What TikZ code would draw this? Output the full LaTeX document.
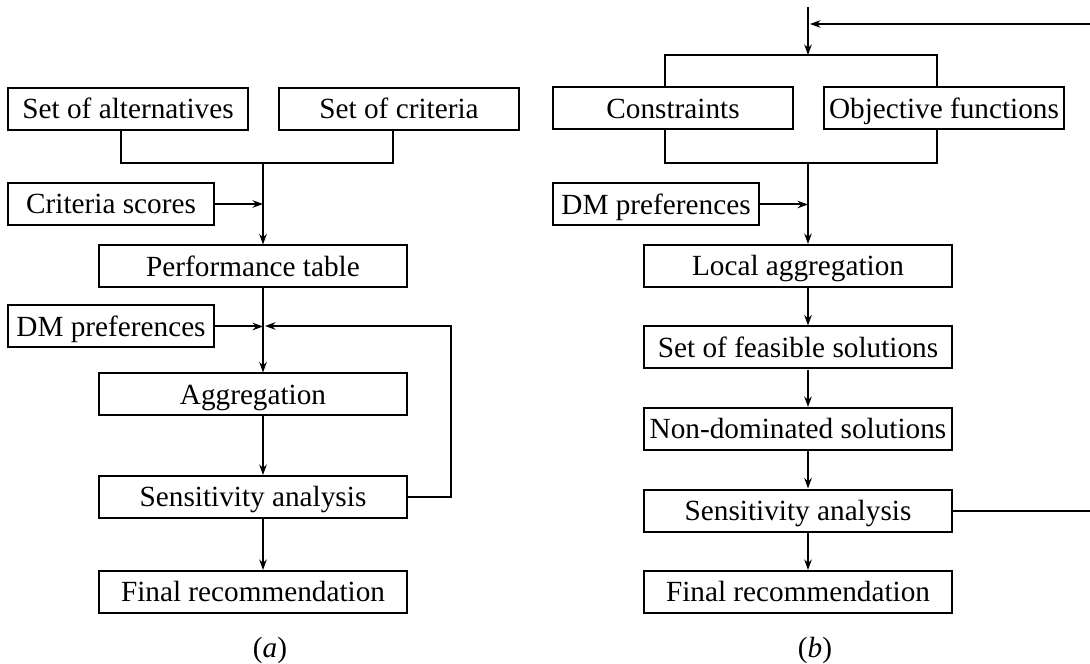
\documentclass[tikz,border=0pt]{standalone}
\usepackage{fontspec}
\setmainfont{Liberation Serif}
\usepackage{tikz}
\usetikzlibrary{arrows.meta}
\usetikzlibrary{positioning}

\begin{document}
\begin{tikzpicture}[x=0.4pt, y=-0.4pt, line width=0.8pt,
    block/.style={rectangle, draw, line width=0.8pt, text centered, inner sep=0pt,
                  text height=7.7pt, text depth=0pt,
                  minimum height=16.8pt, font=\fontsize{11.7pt}{14pt}\selectfont},
    wide/.style={block, minimum width=123.2pt},
    input/.style={block, minimum width=96pt},
    side/.style={block, minimum width=82.4pt},
    arr/.style={-{Stealth[length=4.2pt, width=3pt]}}]
            \useasboundingbox (0,0) rectangle (1090,664);

            % Define blocks (a)
            \node [input] (alt) at (128,109) {Set of alternatives};
            \node [input] (crit) at (399,109) {Set of criteria};
            \node [side] (scores) at (111,204) {Criteria scores};
            \node [wide] (perf) at (253,266.5) {Performance table};
            \node [side] (prefa) at (111,326.5) {DM preferences};
            \node [wide] (agg) at (253,394.5) {Aggregation};
            \node [wide] (sensa) at (253,497) {Sensitivity analysis};
            \node [wide] (finala) at (253,592) {Final recommendation};
            \node [block, draw=none] (labela) at (270,648) {(\textit{a})};

            % Define blocks (b)
            \node [input] (cons) at (673,108.5) {Constraints};
            \node [input] (obj) at (944,108.5) {Objective functions};
            \node [side] (prefb) at (656,204.5) {DM preferences};
            \node [wide] (local) at (798,266) {Local aggregation};
            \node [wide, below=15pt of local] (feas) {Set of feasible solutions};
            \node [wide, below=15pt of feas] (nondom) {Non-dominated solutions};
            \node [wide, below=15pt of nondom] (sensb) {Sensitivity analysis};
            \node [wide, below=15pt of sensb] (finalb) {Final recommendation};
            \node [block, draw=none] (labelb) at (815,648) {(\textit{b})};

            % Junctions and loose ends
            \coordinate (joina) at (263,163);
            \coordinate (loopa) at (451,326);
            \coordinate (topb) at (808,7);
            \coordinate (joinbt) at (808,55);
            \coordinate (joinbb) at (808,163);
            \coordinate (backb) at (1090,24);
            \coordinate (outb) at (1090,511);

            % Define arrows (a)
            \draw ([xshift=-2.8pt]alt.south) |- (joina) -| ([xshift=-2.4pt]crit.south);
            \draw [arr] (joina) -- (joina |- perf.north);
            \draw [arr] (scores.east) -- (scores.east -| joina);
            \draw [arr] (perf.south -| joina) -- (agg.north -| joina);
            \draw [arr] (prefa.east) -- (prefa.east -| joina);
            \draw [arr] (sensa.east) -| (loopa) -- ([xshift=0.8pt]loopa -| joina);
            \draw [arr] (agg.south -| joina) -- (sensa.north -| joina);
            \draw [arr] (sensa.south -| joina) -- (finala.north -| joina);

            % Define arrows (b)
            \draw [arr] (topb) -- (joinbt);
            \draw [arr] (backb) -- ([xshift=0.8pt]backb -| topb);
            \draw ([xshift=-3.2pt]cons.north) |- (joinbt) -| ([xshift=-2.8pt]obj.north);
            \draw ([xshift=-3.2pt]cons.south) |- (joinbb) -| ([xshift=-2.8pt]obj.south);
            \draw [arr] (joinbb) -- (joinbb |- local.north);
            \draw [arr] (prefb.east) -- (prefb.east -| joinbb);
            \draw [arr] (local.south -| joinbb) -- (feas.north -| joinbb);
            \draw [arr] (feas.south -| joinbb) -- (nondom.north -| joinbb);
            \draw [arr] (nondom.south -| joinbb) -- (sensb.north -| joinbb);
            \draw [arr] (sensb.south -| joinbb) -- (finalb.north -| joinbb);
            \draw (sensb.east) -- (sensb.east -| outb);
        \end{tikzpicture}
\end{document}
